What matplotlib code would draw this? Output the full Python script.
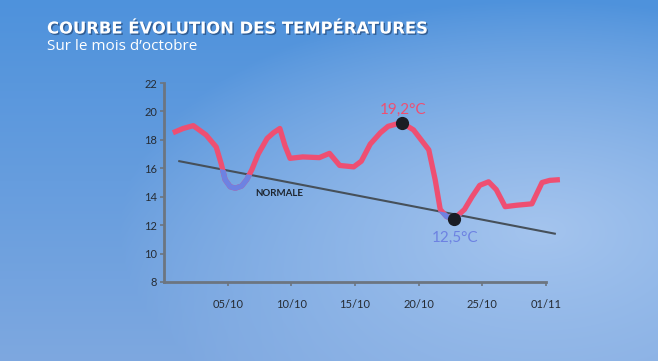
import numpy as np
import matplotlib
matplotlib.use('Agg')
import matplotlib.pyplot as plt
import matplotlib.patheffects as pe
from matplotlib.patches import Polygon

# jours (0 = 30/09) et températures
jours = [0.7, 1.5, 2.3, 3.3, 4.1, 4.5, 4.8, 5.2, 5.6, 6.1, 6.5, 6.9, 7.4, 8.1, 8.6, 9.1,
         9.5, 9.9, 10.9, 12.2, 13.0, 13.8, 14.9, 15.5, 16.2, 17.0, 17.6, 18.2,
         18.7, 19.6, 20.8, 21.3, 21.7, 22.2, 22.8, 23.6, 24.2, 24.8, 25.5,
         26.1, 26.8, 27.7, 28.9, 29.7, 30.3, 31.1]
temps = [18.5, 18.8, 19.0, 18.35, 17.5, 16.3, 15.2, 14.7, 14.6, 14.75, 15.2, 15.9, 17.0, 18.1, 18.5, 18.8,
         17.6, 16.7, 16.8, 16.75, 17.05, 16.2, 16.1, 16.5, 17.7, 18.5, 18.95, 19.1,
         19.2, 18.7, 17.3, 15.2, 13.1, 12.6, 12.45, 13.1, 14.0, 14.8, 15.05,
         14.5, 13.3, 13.4, 13.5, 15.0, 15.15, 15.2]

# normale saisonnière (droite)
normale_x = [1.2, 30.7]
normale_y = [16.5, 11.4]

xticks = [5, 10, 15, 20, 25, 30]
xlabels = ['05/10', '10/10', '15/10', '20/10', '25/10', '01/11']
yticks = [8, 10, 12, 14, 16, 18, 20, 22]

maxi = (18.7, 19.2)
mini = (22.8, 12.45)

W, H = 658, 361
fig = plt.figure(figsize=(W / 100, H / 100), dpi=100)

# fond dégradé
bg = fig.add_axes([0, 0, 1, 1])
yy, xx = np.mgrid[0:H, 0:W]
top = np.array([0x4e, 0x92, 0xdc]) / 255
bot = np.array([0x7e, 0xa8, 0xe0]) / 255
t = (yy / H)[..., None]
img = top * (1 - t) + bot * t
d = np.sqrt(((xx - 540) / 420.0) ** 2 + ((yy - 230) / 230.0) ** 2)
w = np.clip(1 - d, 0, 1)[..., None] ** 0.9
light = np.array([0xa4, 0xc4, 0xee]) / 255
img = img * (1 - w) + light * w
bg.imshow(img, aspect='auto', extent=[0, 1, 0, 1])
bg.axis('off')

left, bottom = 164 / W, 1 - 282 / H
ax = fig.add_axes([left, bottom, (565 - 164) / W, (282 - 83) / H])
ax.patch.set_alpha(0)
ax.set_xlim(0, 31.5)
ax.set_ylim(8, 22)

for s in ['top', 'right']:
    ax.spines[s].set_visible(False)
axis_col = '#6c7580'
ax.spines['left'].set_color(axis_col)
ax.spines['bottom'].set_color(axis_col)
ax.spines['left'].set_linewidth(2)
ax.spines['bottom'].set_linewidth(2)
ax.spines['bottom'].set_bounds(0, 30)

ax.set_xticks(xticks)
ax.set_xticklabels(xlabels)
ax.set_yticks(yticks)
ax.tick_params(colors=axis_col, length=3, width=1.2, labelcolor='#262c34',
               labelsize=8)
ax.tick_params(axis='x', pad=9)
ax.tick_params(axis='y', pad=2)
for lab in ax.get_xticklabels() + ax.get_yticklabels():
    lab.set_family('Lato')

ax.plot(normale_x, normale_y, color='#46505a', lw=1.5, zorder=2)

red = '#ee4f72'
blue = '#6d82e2'
ax.plot(jours, temps, color=red, lw=3.8, solid_capstyle='butt',
        solid_joinstyle='round', zorder=3)
blue_line, = ax.plot(jours, temps, color=blue, lw=3.8, solid_capstyle='butt',
                     solid_joinstyle='round', zorder=4)
pente = (normale_y[1] - normale_y[0]) / (normale_x[1] - normale_x[0])
clip = Polygon([(0, normale_y[0] - normale_x[0] * pente),
                (32, normale_y[0] + (32 - normale_x[0]) * pente),
                (32, 0), (0, 0)], transform=ax.transData)
blue_line.set_clip_path(clip)

ax.plot(*maxi, 'o', color='#1a1d24', ms=8.5, zorder=5)
ax.plot(*mini, 'o', color='#1a1d24', ms=8.5, zorder=5)

ax.text(maxi[0] + 0.1, 20.1, '19,2°C', color=red, fontsize=11, ha='center',
        va='center', family='Lato')
ax.text(mini[0] + 0.1, 11.1, '12,5°C', color=blue, fontsize=11, ha='center',
        va='center', family='Lato')
ax.text(7.2, 14.2, 'NORMALE', color='#1e2630', fontsize=7, ha='left',
        va='center', family='Lato', fontweight='bold')

shadow = [pe.withSimplePatchShadow(offset=(1, -1), shadow_rgbFace='#1a3a66', alpha=0.6)]
fig.text(47 / W, 1 - 29 / H, 'COURBE ÉVOLUTION DES TEMPÉRATURES', color='white',
         fontsize=11.8, fontweight='bold', family='DejaVu Sans', va='center',
         ha='left', path_effects=shadow)
fig.text(47 / W, 1 - 46 / H, 'Sur le mois d\u2019octobre', color='white',
         fontsize=11, family='Open Sans', va='center', ha='left')

fig.savefig('out.png', dpi=100)
